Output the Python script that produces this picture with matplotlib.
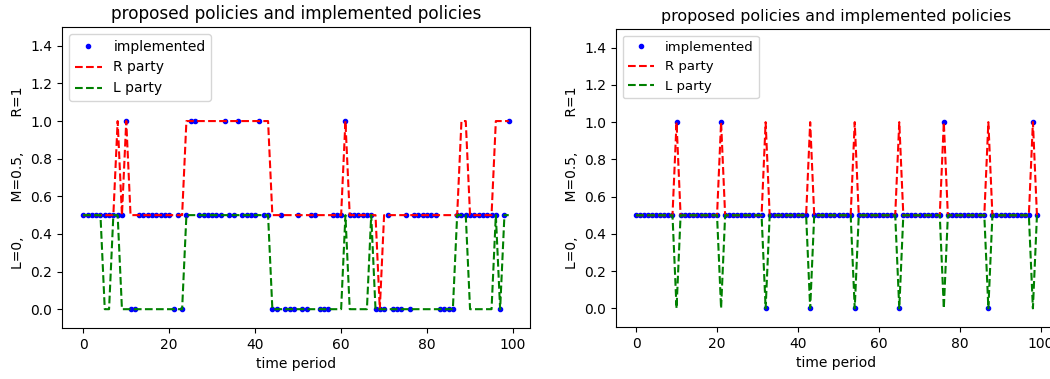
import numpy as np
import matplotlib.pyplot as plt

# time periods
t = list(range(100))

# left panel: proposals of both parties and the implemented policy
r_left = [0.5, 0.5, 0.5, 0.5, 0.5, 0.5, 0.5, 0.5, 1, 0.5,
          1, 0.5, 0.5, 0.5, 0.5, 0.5, 0.5, 0.5, 0.5, 0.5,
          0.5, 0.5, 0.5, 0.5, 1, 1, 1, 1, 1, 1,
          1, 1, 1, 1, 1, 1, 1, 1, 1, 1,
          1, 1, 1, 1, 0.5, 0.5, 0.5, 0.5, 0.5, 0.5,
          0.5, 0.5, 0.5, 0.5, 0.5, 0.5, 0.5, 0.5, 0.5, 0.5,
          0.5, 1, 0.5, 0.5, 0.5, 0.5, 0.5, 0.5, 0.5, 0,
          0.5, 0.5, 0.5, 0.5, 0.5, 0.5, 0.5, 0.5, 0.5, 0.5,
          0.5, 0.5, 0.5, 0.5, 0.5, 0.5, 0.5, 0.5, 1, 1,
          0.5, 0.5, 0.5, 0.5, 0.5, 0.5, 1, 1, 1, 1]
l_left = [0.5, 0.5, 0.5, 0.5, 0.5, 0, 0, 0.5, 0.5, 0,
          0, 0, 0, 0, 0, 0, 0, 0, 0, 0,
          0, 0, 0, 0, 0.5, 0.5, 0.5, 0.5, 0.5, 0.5,
          0.5, 0.5, 0.5, 0.5, 0.5, 0.5, 0.5, 0.5, 0.5, 0.5,
          0.5, 0.5, 0.5, 0.5, 0, 0, 0, 0, 0, 0,
          0, 0, 0, 0, 0, 0, 0, 0, 0, 0,
          0, 0.5, 0, 0, 0, 0, 0, 0.5, 0, 0,
          0, 0, 0, 0, 0, 0, 0, 0, 0, 0,
          0, 0, 0, 0, 0, 0, 0, 0.5, 0.5, 0.5,
          0, 0, 0, 0, 0, 0, 0.5, 0, 0.5, 0.5]
impl_left = [0.5, 0.5, 0.5, 0.5, 0.5, 0.5, 0.5, 0.5, 0.5, 0.5,
             1, 0, 0, 0.5, 0.5, 0.5, 0.5, 0.5, 0.5, 0.5,
             0.5, 0, 0.5, 0, 0.5, 1, 1, 0.5, 0.5, 0.5,
             0.5, 0.5, 0.5, 1, 0.5, 0.5, 1, 0.5, 0.5, 0.5,
             0.5, 1, 0.5, 0.5, 0, 0, 0.5, 0, 0, 0,
             0.5, 0, 0, 0.5, 0.5, 0, 0, 0, 0.5, 0.5,
             0.5, 1, 0.5, 0.5, 0.5, 0.5, 0.5, 0.5, 0, 0,
             0, 0.5, 0, 0, 0, 0.5, 0, 0.5, 0.5, 0.5,
             0.5, 0.5, 0.5, 0, 0, 0, 0, 0.5, 0.5, 0.5,
             0.5, 0.5, 0.5, 0.5, 0.5, 0.5, 0.5, 0, 0.5, 1]

# right panel
r_right = [0.5, 0.5, 0.5, 0.5, 0.5, 0.5, 0.5, 0.5, 0.5, 0.5,
           1, 0.5, 0.5, 0.5, 0.5, 0.5, 0.5, 0.5, 0.5, 0.5,
           0.5, 1, 0.5, 0.5, 0.5, 0.5, 0.5, 0.5, 0.5, 0.5,
           0.5, 0.5, 1, 0.5, 0.5, 0.5, 0.5, 0.5, 0.5, 0.5,
           0.5, 0.5, 0.5, 1, 0.5, 0.5, 0.5, 0.5, 0.5, 0.5,
           0.5, 0.5, 0.5, 0.5, 1, 0.5, 0.5, 0.5, 0.5, 0.5,
           0.5, 0.5, 0.5, 0.5, 0.5, 1, 0.5, 0.5, 0.5, 0.5,
           0.5, 0.5, 0.5, 0.5, 0.5, 0.5, 1, 0.5, 0.5, 0.5,
           0.5, 0.5, 0.5, 0.5, 0.5, 0.5, 0.5, 1, 0.5, 0.5,
           0.5, 0.5, 0.5, 0.5, 0.5, 0.5, 0.5, 0.5, 1, 0.5]
l_right = [0.5, 0.5, 0.5, 0.5, 0.5, 0.5, 0.5, 0.5, 0.5, 0.5,
           0, 0.5, 0.5, 0.5, 0.5, 0.5, 0.5, 0.5, 0.5, 0.5,
           0.5, 0, 0.5, 0.5, 0.5, 0.5, 0.5, 0.5, 0.5, 0.5,
           0.5, 0.5, 0, 0.5, 0.5, 0.5, 0.5, 0.5, 0.5, 0.5,
           0.5, 0.5, 0.5, 0, 0.5, 0.5, 0.5, 0.5, 0.5, 0.5,
           0.5, 0.5, 0.5, 0.5, 0, 0.5, 0.5, 0.5, 0.5, 0.5,
           0.5, 0.5, 0.5, 0.5, 0.5, 0, 0.5, 0.5, 0.5, 0.5,
           0.5, 0.5, 0.5, 0.5, 0.5, 0.5, 0, 0.5, 0.5, 0.5,
           0.5, 0.5, 0.5, 0.5, 0.5, 0.5, 0.5, 0, 0.5, 0.5,
           0.5, 0.5, 0.5, 0.5, 0.5, 0.5, 0.5, 0.5, 0, 0.5]
impl_right = [0.5, 0.5, 0.5, 0.5, 0.5, 0.5, 0.5, 0.5, 0.5, 0.5,
              1, 0.5, 0.5, 0.5, 0.5, 0.5, 0.5, 0.5, 0.5, 0.5,
              0.5, 1, 0.5, 0.5, 0.5, 0.5, 0.5, 0.5, 0.5, 0.5,
              0.5, 0.5, 0, 0.5, 0.5, 0.5, 0.5, 0.5, 0.5, 0.5,
              0.5, 0.5, 0.5, 0, 0.5, 0.5, 0.5, 0.5, 0.5, 0.5,
              0.5, 0.5, 0.5, 0.5, 0, 0.5, 0.5, 0.5, 0.5, 0.5,
              0.5, 0.5, 0.5, 0.5, 0.5, 0, 0.5, 0.5, 0.5, 0.5,
              0.5, 0.5, 0.5, 0.5, 0.5, 0.5, 1, 0.5, 0.5, 0.5,
              0.5, 0.5, 0.5, 0.5, 0.5, 0.5, 0.5, 0, 0.5, 0.5,
              0.5, 0.5, 0.5, 0.5, 0.5, 0.5, 0.5, 0.5, 1, 0.5]

W, H = 1050, 379


def px_axes(fig, left, top, right, bottom):
    """Add axes given pixel edges of the figure."""
    return fig.add_axes([left / W, (H - bottom) / H,
                         (right - left) / W, (bottom - top) / H])


def draw_panel(ax, impl, r, l, title_size, legend_size):
    ax.plot(t, impl, "b.", label="implemented")
    ax.plot(t, r, "r--", label="R party")
    ax.plot(t, l, "g--", label="L party")
    ax.set_ylim(-0.1, 1.5)
    ax.set_yticks(np.arange(0, 1.41, 0.2))
    ax.set_xticks([0, 20, 40, 60, 80, 100])
    ax.set_title("proposed policies and implemented policies", fontsize=title_size)
    ax.set_xlabel("time period")
    ax.set_ylabel("L=0,        M=0.5,        R=1")
    ax.legend(loc="upper left", fontsize=legend_size)


fig = plt.figure(figsize=(W / 100, H / 100), dpi=100)

ax1 = px_axes(fig, 62, 27, 530, 328)
draw_panel(ax1, impl_left, r_left, l_left, 12.2, 10)

# the right picture is a little narrower than the left one
ax2 = px_axes(fig, 616, 29, 1057, 327)
draw_panel(ax2, impl_right, r_right, l_right, 11.4, 9.5)

plt.savefig("out.png", dpi=100)
